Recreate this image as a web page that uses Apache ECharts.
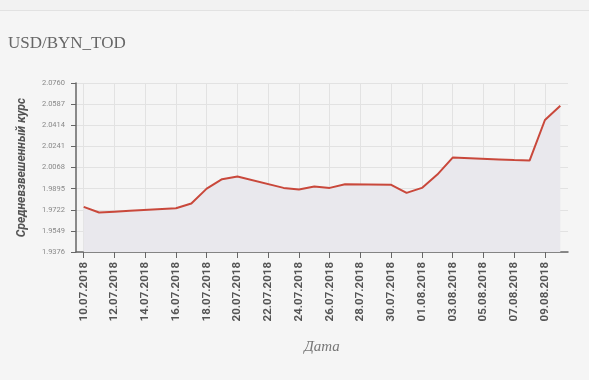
<!DOCTYPE html>
<html><head><meta charset="utf-8">
<script src="https://cdn.jsdelivr.net/npm/echarts@6/dist/echarts.min.js"></script>
<style>html,body{margin:0;padding:0;background:#f5f5f5;}#c{width:589px;height:380px;}</style>
</head><body><div id="c"></div>
<script>
const dates = ['10.07.2018','11.07.2018','12.07.2018','13.07.2018','14.07.2018','15.07.2018','16.07.2018','17.07.2018','18.07.2018','19.07.2018','20.07.2018','21.07.2018','22.07.2018','23.07.2018','24.07.2018','25.07.2018','26.07.2018','27.07.2018','28.07.2018','29.07.2018','30.07.2018','31.07.2018','01.08.2018','02.08.2018','03.08.2018','04.08.2018','05.08.2018','06.08.2018','07.08.2018','08.08.2018','09.08.2018','10.08.2018'];
const rates = [1.9746,1.9699,1.9706,1.9713,null,null,1.9734,1.9773,1.9895,1.9972,1.9994,null,null,1.9901,1.9887,1.9912,1.9901,1.9931,null,null,1.9926,1.9860,1.9901,2.0010,2.0149,null,null,2.0134,2.0129,2.0125,2.0457,2.0574];
const yMin = 1.9376, yMax = 2.0760, yStep = 0.0173;

const chart = echarts.init(document.getElementById('c'));
chart.setOption({
  backgroundColor: '#f5f5f5',
  animation: false,
  graphic: [
    {type:'rect', shape:{x:0,y:0,width:589,height:10}, style:{fill:'#f2f2f2'}},
    {type:'line', shape:{x1:0,y1:10.5,x2:589,y2:10.5}, style:{stroke:'#e2e2e2',lineWidth:1}}
  ],
  title: {
    text: 'USD/BYN_TOD', left: 3, top: 30,
    textStyle: {fontFamily:'Liberation Serif', fontSize:17, fontWeight:'normal', color:'#666'}
  },
  grid: {left:76, right:21, top:83, bottom:128, containLabel:false},
  xAxis: {
    type:'category', data: dates, boundaryGap: true,
    name:'Дата', nameLocation:'middle', nameGap:88,
    nameTextStyle:{fontFamily:'Liberation Serif', fontStyle:'italic', fontSize:15, color:'#777'},
    axisLine:{lineStyle:{color:'#666', width:1.5}},
    axisTick:{show:true, interval:1, alignWithLabel:true, length:6, lineStyle:{color:'#666'}},
    axisLabel:{interval:1, rotate:90, margin:10, fontFamily:'Roboto', fontWeight:'bold', fontSize:11.5, color:'#555'},
    splitLine:{show:true, interval:1, alignWithLabel:true, lineStyle:{color:'#e2e2e2'}}
  },
  yAxis: {
    type:'value', min:yMin, max:yMax, interval:yStep,
    name:'Средневзвешенный курс', nameLocation:'middle', nameGap:48, nameRotate:90,
    nameTextStyle:{fontFamily:'Roboto', fontStyle:'italic', fontWeight:'bold', fontSize:12, color:'#555'},
    axisLine:{show:true, lineStyle:{color:'#666', width:1.5}},
    axisTick:{show:true, length:5, lineStyle:{color:'#666'}},
    axisLabel:{fontFamily:'Roboto', fontSize:7.5, color:'#888', margin:11, formatter: v => v.toFixed(4)},
    splitLine:{show:true, lineStyle:{color:'#e2e2e2'}}
  },
  series: [{
    type:'line', data: rates, connectNulls:true, showSymbol:false, symbol:'none',
    lineStyle:{color:'#c9483b', width:2},
    areaStyle:{color:'#e9e8ed', opacity:1}
  }]
});
</script></body></html>
